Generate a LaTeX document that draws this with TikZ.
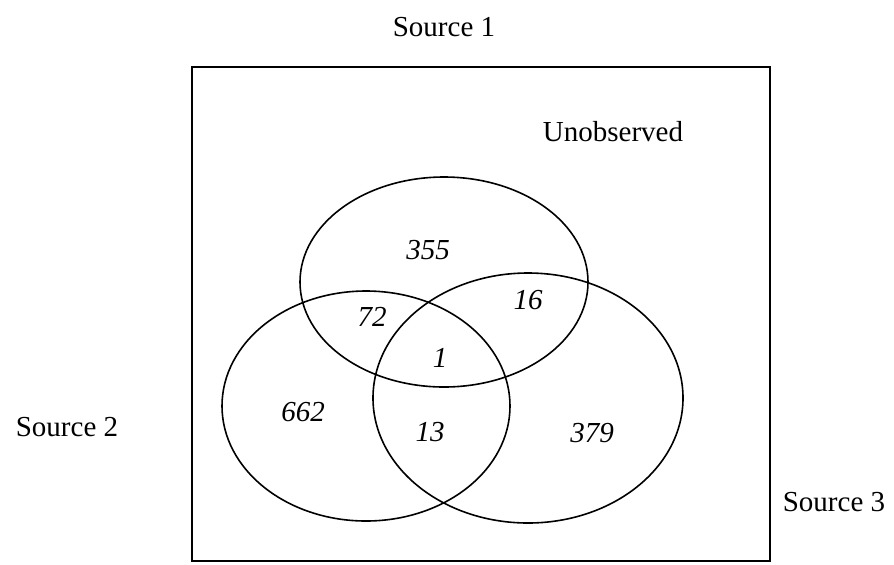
\documentclass[tikz,border=0pt]{standalone}
\usepackage{fontspec}
\setmainfont{Liberation Serif}

\begin{document}
\begin{tikzpicture}[
    x=0.5pt, y=-0.5pt,
    title/.style={font=\fontsize{14.5}{17}\selectfont, inner sep=0pt},
    count/.style={font=\fontsize{14.5}{17}\selectfont\itshape, inner sep=0pt},
    set/.style={draw, line width=0.8pt},
]
    \useasboundingbox (0,0) rectangle (894,564);

    % Population frame
    \draw[set] (192,67) rectangle (770,561);

    % Sources
    \draw[set] (444,282) ellipse [x radius=144, y radius=105];
    \draw[set] (366,406) ellipse [x radius=144, y radius=115];
    \draw[set] (528,398) ellipse [x radius=155, y radius=125];

    % Labels
    \node[title] (src1) at (444,27) {Source 1};
    \node[title] (src2) at (67,427) {Source 2};
    \node[title] (src3) at (834,502) {Source 3};
    \node[title] (unobs) at (613,132) {Unobserved};

    % Counts
    \node[count] (n1) at (428,250) {355};
    \node[count] (n12) at (372,317) {72};
    \node[count] (n13) at (528,300) {16};
    \node[count] (n123) at (440,358) {1};
    \node[count] (n2) at (303,412) {662};
    \node[count] (n23) at (430,432) {13};
    \node[count] (n3) at (592,433) {379};
\end{tikzpicture}
\end{document}
